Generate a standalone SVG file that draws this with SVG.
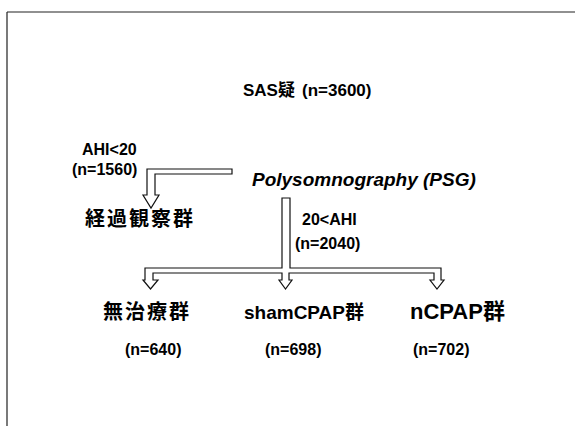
<svg xmlns="http://www.w3.org/2000/svg" width="575" height="426" viewBox="0 0 575 426">
<style>
.t{font-family:"Liberation Sans","Noto Sans CJK JP",sans-serif;font-weight:bold;fill:#000}
.s{font-size:16px}
.j{font-size:20px;letter-spacing:2px}
.arrow{fill:#fff;stroke:#111;stroke-width:1.2;stroke-linejoin:miter}
.frame{stroke:#222;stroke-width:1.2;fill:none}
</style>
<rect width="575" height="426" fill="#fff"/>
<g id="frame">
<path class="frame" d="M7,12 H575 M7,12 V426"/>
</g>
<g id="connectors">
<path id="arrow-low" class="arrow" d="M232,169 H147 V195 H143 L151,208 L159,195 H155 V174 H232 Z"/>
<path id="arrow-high" class="arrow" d="M282,198 V268 H145 V280 H143 L150.5,289 L158,280 H153 V273 H282 V280 H279 L285.5,289 L292,280 H289 V273 H434 V280 H430 L437,289 L444,280 H441 V268 H290 V198 Z"/>
</g>
<g id="node-sas">
<text class="t" font-size="17" x="243" y="96">SAS疑<tspan x="302">(n=3600)</tspan></text>
</g>
<g id="label-low">
<text class="t s" x="82" y="155">AHI&lt;20</text>
<text class="t s" x="72" y="175">(n=1560)</text>
</g>
<g id="node-psg">
<text class="t" x="252" y="186" font-size="19" font-style="italic">Polysomnography (PSG)</text>
</g>
<g id="node-observe">
<text class="t j" x="85" y="226">経過観察群</text>
</g>
<g id="label-high">
<text class="t s" x="302" y="225">20&lt;AHI</text>
<text class="t s" x="295" y="249">(n=2040)</text>
</g>
<g id="node-untreated">
<text class="t j" x="103" y="319">無治療群</text>
<text class="t s" x="125" y="355">(n=640)</text>
</g>
<g id="node-sham">
<text class="t" x="244" y="319" font-size="19">shamCPAP群</text>
<text class="t s" x="265" y="355">(n=698)</text>
</g>
<g id="node-ncpap">
<text class="t" x="410" y="319" font-size="22">nCPAP群</text>
<text class="t s" x="413" y="355">(n=702)</text>
</g>
</svg>
